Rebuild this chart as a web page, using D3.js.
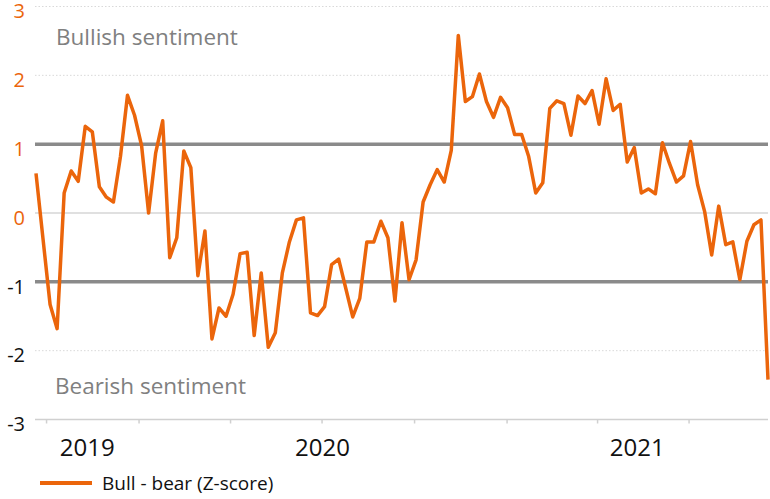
<!DOCTYPE html>
<html>
<head>
<meta charset="utf-8">
<script src="https://cdn.jsdelivr.net/npm/d3@7"></script>
<style>
  html, body { margin: 0; padding: 0; background: #fff; }
  svg { display: block; font-family: "Open Sans", "Noto Sans", sans-serif; }
</style>
</head>
<body>
<svg id="chart" width="770" height="499"></svg>
<script>
// ---- data ----
const seriesName = "Bull - bear (Z-score)";
const firstWeek = "2019-09-21";   // first weekly observation
const values = [
  0.575, -0.38, -1.33, -1.68, 0.29, 0.61, 0.46, 1.26, 1.18, 0.38,
  0.23, 0.16, 0.82, 1.71, 1.42, 0.98, 0.00, 0.87, 1.34, -0.65,
  -0.36, 0.90, 0.66, -0.91, -0.26, -1.83, -1.38, -1.50, -1.18, -0.59,
  -0.57, -1.78, -0.87, -1.95, -1.74, -0.87, -0.42, -0.10, -0.07, -1.45,
  -1.49, -1.36, -0.75, -0.67, -1.09, -1.51, -1.24, -0.42, -0.42, -0.12,
  -0.36, -1.28, -0.14, -0.97, -0.68, 0.16, 0.41, 0.63, 0.45, 0.91,
  2.58, 1.62, 1.69, 2.02, 1.62, 1.39, 1.68, 1.53, 1.14, 1.14,
  0.82, 0.29, 0.44, 1.52, 1.63, 1.59, 1.13, 1.70, 1.59, 1.78,
  1.29, 1.95, 1.49, 1.58, 0.74, 0.95, 0.29, 0.35, 0.28, 1.02,
  0.72, 0.45, 0.54, 1.04, 0.41, 0.02, -0.61, 0.10, -0.46, -0.42,
  -0.97, -0.41, -0.17, -0.10, -2.42
];
const yTicks = [3, 2, 1, 0, -1, -2, -3];
const thresholdLines = [1, -1];
const yearLabels = ["2019", "2020", "2021"];
const zoneLabels = ["Bullish sentiment", "Bearish sentiment"];

// ---- setup ----
const svg = d3.select("#chart");
const orange = "#eb650b";
const parse = d3.timeParse("%Y-%m-%d");
const start = parse(firstWeek);
const dates = values.map((v, i) => d3.timeDay.offset(start, 7 * i));
const data = values.map((v, i) => ({ date: dates[i], value: v }));

const x = d3.scaleTime()
  .domain([dates[0], dates[dates.length - 1]])
  .range([36, 768]);
const y = d3.scaleLinear().domain([-3, 3]).range([419.5, 6.5]);
const plotLeft = 35, plotRight = 768;

// ---- gridlines ----
const grid = svg.append("g");
yTicks.forEach(t => {
  if (t === -3 || thresholdLines.includes(t)) return;
  const line = grid.append("line")
    .attr("x1", plotLeft).attr("x2", plotRight)
    .attr("y1", y(t)).attr("y2", y(t));
  if (t === 0) {
    line.attr("stroke", "#d6d6d6").attr("stroke-width", 1.5);
  } else {
    line.attr("stroke", "#d9d9d9").attr("stroke-width", 1).attr("stroke-dasharray", "1.5,2");
  }
});

// ---- bottom axis ----
const xAxis = d3.axisBottom(x)
  .ticks(d3.timeMonth.every(3))
  .tickSize(4).tickSizeOuter(0)
  .tickFormat("");
const gx = svg.append("g")
  .attr("transform", `translate(0,${y(-3)})`)
  .call(xAxis);
gx.select(".domain").attr("d", `M${plotLeft},0H${plotRight}`).attr("stroke", "#d0d0d0").attr("stroke-width", 1.5);
gx.selectAll(".tick line").attr("stroke", "#d0d0d0").attr("stroke-width", 1.5);

// year labels centred in each year's span of data
const [d0, d1] = x.domain();
yearLabels.forEach(yr => {
  const ys = new Date(+yr, 0, 1), ye = new Date(+yr + 1, 0, 1);
  const s = ys < d0 ? d0 : ys, e = ye > d1 ? d1 : ye;
  svg.append("text")
    .attr("x", (x(s) + x(e)) / 2)
    .attr("y", 456)
    .attr("text-anchor", "middle")
    .attr("font-size", 24)
    .attr("fill", "#111")
    .text(yr);
});

// ---- y axis labels ----
const yAxis = d3.axisLeft(y).tickValues(yTicks).tickSize(0).tickPadding(0)
  .tickFormat(d => String(d));
const gy = svg.append("g").attr("transform", "translate(25,0)").call(yAxis);
gy.select(".domain").remove();
gy.selectAll(".tick text")
  .attr("font-size", 20)
  .attr("font-family", "\"Open Sans\", sans-serif")
  .attr("dy", "0.56em")
  .attr("fill", d => d >= 0 ? orange : "#111");

// ---- threshold lines ----
thresholdLines.forEach(t => {
  svg.append("line")
    .attr("x1", plotLeft).attr("x2", plotRight)
    .attr("y1", y(t)).attr("y2", y(t))
    .attr("stroke", "#8a8a8a").attr("stroke-width", 3.5);
});

// ---- zone labels ----
svg.append("text").attr("x", 56).attr("y", 45)
  .attr("font-size", 22.5).attr("fill", "#808080").text(zoneLabels[0]);
svg.append("text").attr("x", 55).attr("y", 394)
  .attr("font-size", 22.5).attr("fill", "#808080").text(zoneLabels[1]);

// ---- series line ----
const line = d3.line().x(d => x(d.date)).y(d => y(d.value));
svg.append("path").datum(data)
  .attr("d", line)
  .attr("fill", "none")
  .attr("stroke", orange)
  .attr("stroke-width", 3.5)
  .attr("stroke-linejoin", "round")
  .attr("stroke-linecap", "butt");

// ---- legend ----
const lg = svg.append("g");
lg.append("line").attr("x1", 40).attr("x2", 92).attr("y1", 483).attr("y2", 483)
  .attr("stroke", orange).attr("stroke-width", 4);
lg.append("text").attr("x", 102).attr("y", 490)
  .attr("font-size", 19).attr("fill", "#111").text(seriesName);
</script>
</body>
</html>
